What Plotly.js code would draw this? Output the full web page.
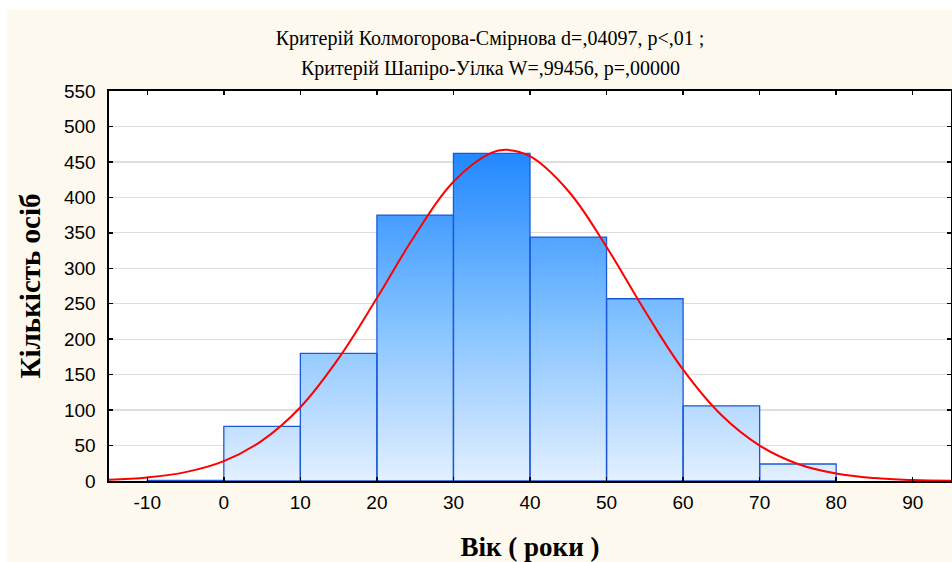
<!DOCTYPE html>
<html>
<head>
<meta charset="utf-8">
<script src="https://cdn.plot.ly/plotly-3.0.1.min.js"></script>
<style>
  html, body { margin: 0; padding: 0; background: #ffffff; width: 952px; height: 562px; overflow: hidden; }
  #chart { position: absolute; left: 7px; top: 10px; width: 945px; height: 552px; }
</style>
</head>
<body>
<div id="chart"></div>
<script>
// Histogram bins (age, years): left edges, right edges, counts
const binStart = [-10, 0, 10, 20, 30, 40, 50, 60, 70];
const binEnd   = [0, 10, 20, 30, 40, 50, 60, 70, 80];
const counts   = [1, 77, 180, 375, 462, 344, 257, 106, 24];

// Expected normal curve
const curveX = [-15, -10, -5, 0, 5, 10, 15, 20, 25, 30, 35, 37, 40, 45, 50, 55, 60, 65, 70, 75, 80, 85, 90, 95];
const curveY = [1.8, 5, 12.5, 28, 57, 104, 173, 258, 347, 422, 463, 467, 458, 409, 330, 240, 157, 93, 50, 24, 10.5, 4.1, 1.4, 0.5];

const xTickVals = [-10, 0, 10, 20, 30, 40, 50, 60, 70, 80, 90];
const xTickText = ['-10', '0', '10', '20', '30', '40', '50', '60', '70', '80', '90'];
const yTickVals = [0, 50, 100, 150, 200, 250, 300, 350, 400, 450, 500, 550];

const titleLine1 = 'Критерій Колмогорова-Смірнова d=,04097, p<,01 ;';
const titleLine2 = 'Критерій Шапіро-Уілка W=,99456, p=,00000';
const xTitle = 'Вік ( роки )';
const yTitle = 'Кількість осіб';

// Build bar outlines as closed polygons (separated by gaps)
const bx = [], by = [];
for (let i = 0; i < counts.length; i++) {
  bx.push(binStart[i], binStart[i], binEnd[i], binEnd[i], binStart[i], null);
  by.push(0, counts[i], counts[i], 0, 0, null);
}
const maxCount = Math.max(...counts);

const bars = {
  type: 'scatter',
  mode: 'lines',
  x: bx, y: by,
  fill: 'toself',
  connectgaps: false,
  line: { color: '#1a5ad8', width: 1.3 },
  fillgradient: {
    type: 'vertical',
    start: 0,
    stop: maxCount,
    colorscale: [[0, '#e3f0ff'], [0.5, '#80c0ff'], [1, '#2288ff']]
  },
  hoverinfo: 'skip',
  showlegend: false
};

const curve = {
  type: 'scatter',
  mode: 'lines',
  x: curveX, y: curveY,
  line: { color: '#ff0000', width: 2, shape: 'spline', smoothing: 1.1 },
  showlegend: false
};

const serif = 'Liberation Serif, Times New Roman, serif';
const sans = 'Liberation Sans, Arial, sans-serif';

const layout = {
  width: 945, height: 552,
  margin: { l: 102, r: 1, t: 81, b: 81 },
  paper_bgcolor: '#fef9ee',
  plot_bgcolor: '#ffffff',
  showlegend: false,
  title: {
    text: titleLine1,
    font: { family: serif, size: 20, color: '#000' },
    x: 483 / 945, xref: 'container', xanchor: 'center',
    y: 1 - 28 / 552, yref: 'container', yanchor: 'middle'
  },
  annotations: [{
    text: titleLine2,
    xref: 'paper', yref: 'paper',
    x: (483 - 102) / 842, y: 1 + 23 / 390,
    xanchor: 'center', yanchor: 'middle',
    showarrow: false,
    font: { family: serif, size: 20, color: '#000' }
  }],
  xaxis: {
    range: [-15, 95],
    tickvals: xTickVals,
    ticktext: xTickText,
    ticks: 'inside', ticklen: 4, tickwidth: 1.5, tickcolor: '#000',
    showline: true, linecolor: '#000', linewidth: 1.6, mirror: 'ticks',
    showgrid: false, zeroline: false,
    ticklabelstandoff: 4,
    tickfont: { family: sans, size: 19, color: '#000' },
    title: { text: xTitle, font: { family: serif, size: 27, color: '#000', weight: 'bold' } }
  },
  yaxis: {
    range: [0, 550],
    tickvals: yTickVals,
    ticks: 'inside', ticklen: 4, tickwidth: 1.5, tickcolor: '#000',
    showline: true, linecolor: '#000', linewidth: 1.6, mirror: 'ticks',
    showgrid: true, gridcolor: '#dedede', gridwidth: 1.2, zeroline: false,
    ticklabelstandoff: 8,
    tickfont: { family: sans, size: 19, color: '#000' },
    title: { text: yTitle, font: { family: serif, size: 29, color: '#000', weight: 'bold' } }
  }
};

Plotly.newPlot('chart', [bars, curve], layout, { displayModeBar: false, staticPlot: true });
</script>
</body>
</html>
